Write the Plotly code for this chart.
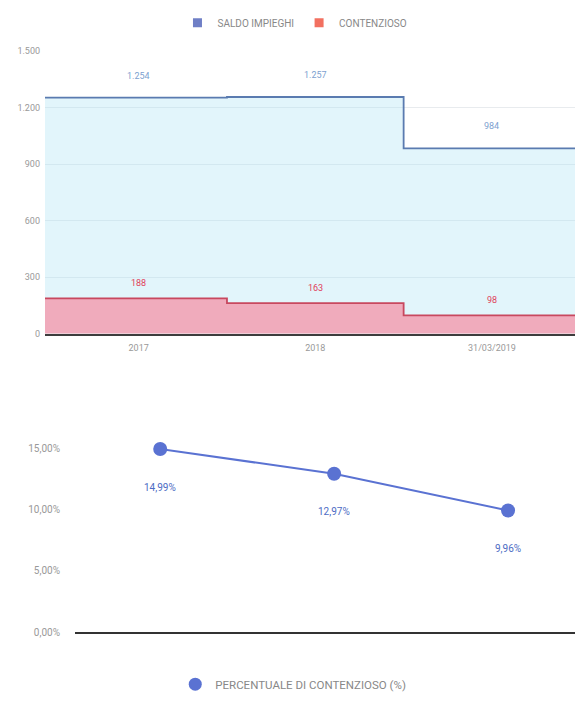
import numpy as np
import plotly.graph_objects as go

# ---- data -------------------------------------------------------------
categories = ["2017", "2018", "31/03/2019"]
saldo = [1254, 1257, 984]          # blue series
contenzioso = [188, 163, 98]       # red series
top_ticks = [0, 300, 600, 900, 1200, 1500]
pct_ticks = [0, 5, 10, 15]

# share of the red series over the blue one, in percent
pct = np.round(np.array(contenzioso) / np.array(saldo) * 100, 2)

FONT = "Roboto"
BLUE_LINE = "#5a7bb0"
BLUE_FILL = "rgba(175,228,245,0.36)"
RED_LINE = "#c8485f"
RED_FILL = "rgba(244,150,170,0.78)"
PCT_COLOR = "#5a72d2"

W, H = 575, 701

# x range of the upper chart; steps change half-way between categories
X_LO, X_HI = -0.53, 2.47
idx = np.arange(len(categories))
edges = np.concatenate([[X_LO], idx[1:] - 0.5, [X_HI]])


def stepped(values):
    return list(values) + [values[-1]]


def it_int(v):
    return f"{v:,}".replace(",", ".")


def it_pct(v):
    return f"{v:.2f}".replace(".", ",") + "%"


fig = go.Figure()

# ---- upper chart: stepped areas ----------------------------------------
fig.add_trace(go.Scatter(
    x=edges, y=stepped(saldo), mode="lines", line=dict(shape="hv", color=BLUE_LINE, width=1.8),
    fill="tozeroy", fillcolor=BLUE_FILL, showlegend=False, hoverinfo="skip",
    xaxis="x", yaxis="y"))
fig.add_trace(go.Scatter(
    x=edges, y=stepped(contenzioso), mode="lines", line=dict(shape="hv", color=RED_LINE, width=1.8),
    fill="tozeroy", fillcolor=RED_FILL, showlegend=False, hoverinfo="skip",
    xaxis="x", yaxis="y"))

# legend entries (square swatches)
fig.add_trace(go.Scatter(x=[None], y=[None], mode="markers", name="SALDO IMPIEGHI",
                         marker=dict(symbol="square", size=9, color="#6f7fc6"),
                         legend="legend", xaxis="x", yaxis="y"))
fig.add_trace(go.Scatter(x=[None], y=[None], mode="markers", name="CONTENZIOSO",
                         marker=dict(symbol="square", size=9, color="#f27060"),
                         legend="legend", xaxis="x", yaxis="y"))

# ---- lower chart: percentage line ---------------------------------------
fig.add_trace(go.Scatter(
    x=idx, y=pct, mode="lines+markers", cliponaxis=False,
    line=dict(color=PCT_COLOR, width=2),
    marker=dict(size=14, color=PCT_COLOR),
    showlegend=False, hoverinfo="skip", xaxis="x2", yaxis="y2"))
fig.add_trace(go.Scatter(x=[None], y=[None], mode="markers", name="PERCENTUALE DI CONTENZIOSO (%)",
                         marker=dict(size=13, color=PCT_COLOR),
                         legend="legend2", xaxis="x2", yaxis="y2"))

annotations = []
for i in idx:
    annotations.append(dict(x=i, y=saldo[i], xref="x", yref="y", text=it_int(saldo[i]),
                            showarrow=False, yshift=22,
                            font=dict(family=FONT, size=9, color="#7d9fd0")))
    annotations.append(dict(x=i, y=contenzioso[i], xref="x", yref="y", text=it_int(contenzioso[i]),
                            showarrow=False, yshift=15,
                            font=dict(family=FONT, size=9, color="#e0405a")))
    annotations.append(dict(x=i, y=pct[i], xref="x2", yref="y2", text=it_pct(pct[i]),
                            showarrow=False, yshift=-38,
                            font=dict(family=FONT, size=10, color="#4d6cc4")))

fig.update_layout(
    width=W, height=H,
    margin=dict(l=0, r=0, t=0, b=0),
    paper_bgcolor="white", plot_bgcolor="white",
    font=dict(family=FONT, size=9, color="#999"),
    separators=",.",
    annotations=annotations,
    xaxis=dict(domain=[45 / W, 1], range=[X_LO, X_HI], anchor="y",
               tickvals=idx, ticktext=categories, showgrid=False, zeroline=False,
               showline=True, linecolor="#3d3d3d", linewidth=1.5, ticks="",
               ticklabelstandoff=5, tickfont=dict(size=9, color="#999")),
    yaxis=dict(domain=[1 - 334 / H, 1 - 47 / H], range=[0, 1500], anchor="x",
               tickvals=top_ticks, separatethousands=True,
               showgrid=True, gridcolor="rgba(110,130,150,0.16)",
               zeroline=False, showline=False, ticks="", ticklabelstandoff=4,
               tickfont=dict(size=9, color="#999")),
    xaxis2=dict(domain=[75 / W, 1], range=[-0.49, 2.385], anchor="y2",
                showticklabels=False, showgrid=False, zeroline=False,
                showline=True, linecolor="#333", linewidth=1.6, ticks=""),
    yaxis2=dict(domain=[1 - 637 / H, 1 - 451 / H], range=[0, 15], anchor="x2",
                tickvals=pct_ticks, ticktext=[it_pct(v) for v in pct_ticks],
                showgrid=False, zeroline=False, showline=False, ticks="",
                ticklabelstandoff=14, tickfont=dict(size=10, color="#999")),
    legend=dict(orientation="h", x=0.513, xanchor="center", y=1 - 18 / H, yanchor="middle",
                font=dict(size=10, color="#888"), bgcolor="rgba(0,0,0,0)"),
    legend2=dict(orientation="h", x=0.51, xanchor="center", y=1 - 690 / H, yanchor="middle",
                 font=dict(size=11.5, color="#888"), bgcolor="rgba(0,0,0,0)"),
)

fig.write_html("out.html")
